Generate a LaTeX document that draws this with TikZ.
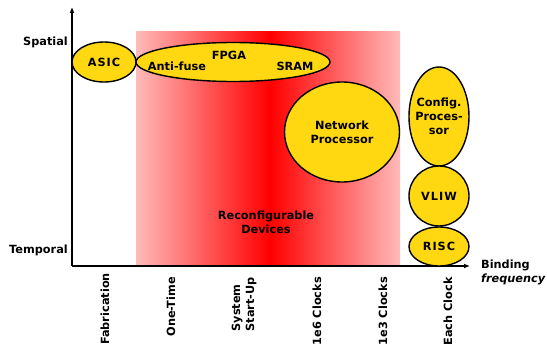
\documentclass[tikz,border=0pt]{standalone}
\usepackage{fontspec}
\setmainfont{DejaVu Sans}
\usetikzlibrary{shapes.geometric,arrows.meta}
\definecolor{pinkedge}{RGB}{255,186,186}
\definecolor{hotred}{RGB}{255,0,0}
\definecolor{chipyellow}{RGB}{255,216,18}
\tikzset{
  lbl/.style={font=\fontsize{11.3}{14}\selectfont\bfseries, inner sep=0pt, align=center},
  chip/.style={ellipse, draw=black, line width=1.4pt, fill=chipyellow, inner sep=0pt},
  axis/.style={line width=1.3pt, -{Latex[length=6pt,width=5pt]}},
  tick/.style={lbl, rotate=90, anchor=east, align=left}
}
\begin{document}
\begin{tikzpicture}[x=1pt,y=-1pt]
\useasboundingbox (0,0) rectangle (547,345);
% gradient band
\shade[left color=pinkedge, right color=hotred] (136,32) rectangle (270,266);
\shade[left color=hotred, right color=pinkedge] (270,32) rectangle (400,266);
% axes
\coordinate (origin) at (72,266);
\coordinate (ytop) at (72,7);
\coordinate (xend) at (470,266);
\draw[axis] (origin) -- (ytop);
\draw[axis] (origin) -- (xend);
% ellipses
\node[chip, minimum width=64pt, minimum height=40pt] (asic) at (104,62) {};
\node[lbl] (asict) at (asic) {A\kern1ptS\kern1ptI\kern1ptC};
\node[chip, minimum width=194pt, minimum height=39pt] (fpga) at (233,62) {};
\node[lbl] (fpgat) at (229,55) {FPGA};
\node[lbl] (antifuse) at (177,66) {Anti-fuse};
\node[lbl] (sram) at (295,66) {SRAM};
\node[chip, minimum width=115pt, minimum height=100pt] (np) at (342,132) {};
\node[lbl] (npt) at (np) {Network\\Processor};
\node[chip, minimum width=60pt, minimum height=99pt] (cfg) at (439,116.5) {};
\node[lbl] (cfgt) at (cfg) {Config.\\Proces-\\sor};
\node[chip, minimum width=60pt, minimum height=60pt] (vliw) at (439,196) {};
\node[lbl] (vliwt) at (vliw) {V\kern1ptL\kern1ptI\kern1ptW};
\node[chip, minimum width=60pt, minimum height=39pt] (risc) at (439,246.5) {};
\node[lbl] (risct) at (risc) {R\kern1ptI\kern1ptS\kern1ptC};
% labels
\node[lbl, anchor=east] (spatial) at (68,42) {Spatial};
\node[lbl, anchor=east] (temporal) at (68,250) {Temporal};
\node[lbl] (reconf) at (266,222) {Reconfigurable\\Devices};
\node[lbl, anchor=west, align=left] (binding) at (481,272) {Binding\\\itshape frequency};
% ticks
\node[tick] (fab) at (105,273) {Fabrication};
\node[tick] (onetime) at (171,277) {One-Time};
\node[tick] (startup) at (244,277) {System\\Start-Up};
\node[tick] (c1e6) at (317,277) {1e6 Clocks};
\node[tick] (c1e3) at (383,277) {1e3 Clocks};
\node[tick] (each) at (448,277) {Each Clock};
\end{tikzpicture}
\end{document}
